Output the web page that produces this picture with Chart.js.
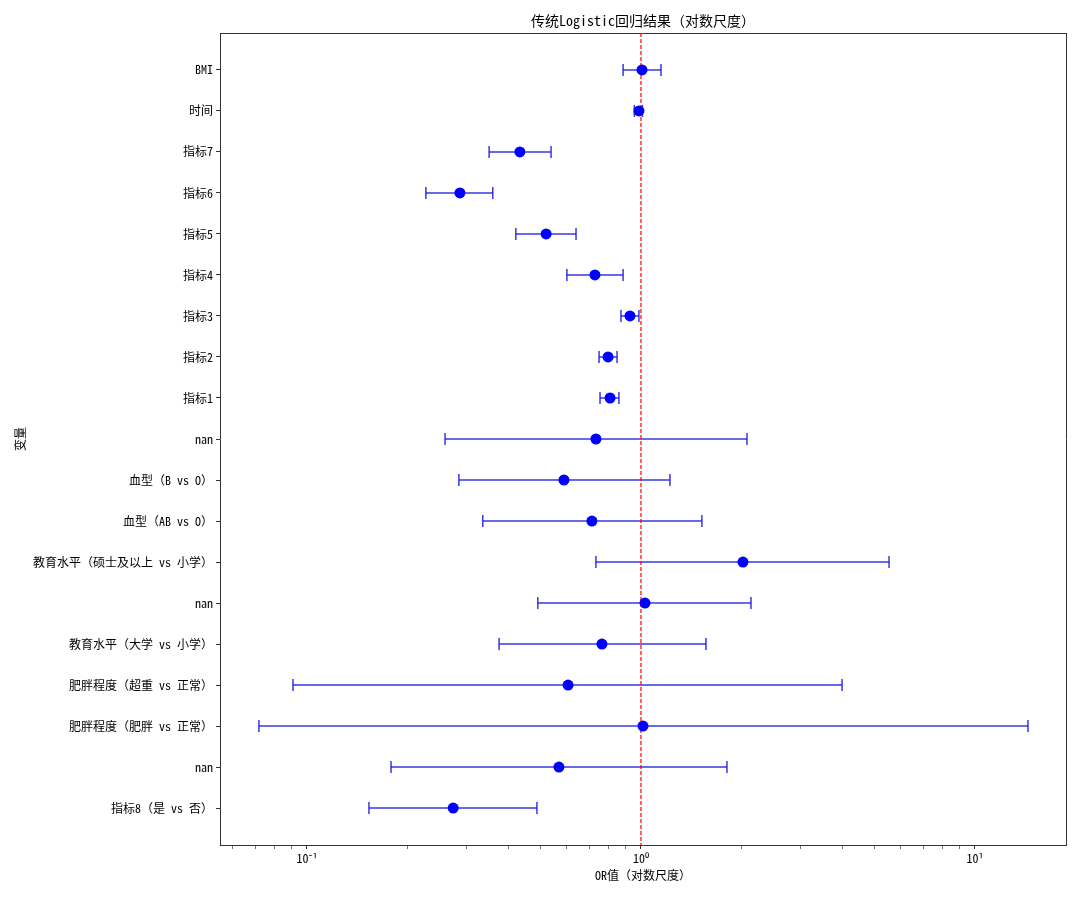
<!DOCTYPE html>
<html>
<head>
<meta charset="utf-8">
<script src="https://cdn.jsdelivr.net/npm/chart.js@4.4.1/dist/chart.umd.min.js"></script>
<style>
  html, body { margin: 0; padding: 0; background: #fff; }
  #wrap { width: 1080px; height: 899px; position: relative; }
</style>
</head>
<body>
<div id="wrap"><canvas id="forest"></canvas></div>
<script>
// variables, top to bottom
const labels = ['BMI', '时间', '指标7', '指标6', '指标5', '指标4', '指标3', '指标2', '指标1', 'nan',
    '血型（B vs O）', '血型（AB vs O）', '教育水平（硕士及以上 vs 小学）', 'nan', '教育水平（大学 vs 小学）',
    '肥胖程度（超重 vs 正常）', '肥胖程度（肥胖 vs 正常）', 'nan', '指标8（是 vs 否）'];
const orValues = [1.007, 0.986, 0.434, 0.287, 0.520, 0.728, 0.927, 0.797, 0.808, 0.733,
    0.588, 0.713, 2.020, 1.028, 0.764, 0.605, 1.014, 0.568, 0.274];
const ciLower = [0.884, 0.955, 0.351, 0.227, 0.422, 0.600, 0.871, 0.749, 0.754, 0.259,
    0.285, 0.336, 0.733, 0.491, 0.376, 0.0908, 0.0718, 0.1785, 0.1533];
const ciUpper = [1.148, 1.010, 0.538, 0.360, 0.639, 0.884, 0.986, 0.848, 0.859, 2.077,
    1.221, 1.522, 5.53, 2.135, 1.565, 4.00, 14.41, 1.809, 0.488];

const majorTicks = [0.1, 1, 10];
const majorTickLabels = ['10⁻¹', '10⁰', '10¹'];
const minorTicks = [0.06, 0.07, 0.08, 0.09, 0.2, 0.3, 0.4, 0.5, 0.6, 0.7, 0.8, 0.9,
    2, 3, 4, 5, 6, 7, 8, 9];
const refLine = 1;

const FONT = "'Noto Sans Mono CJK SC', 'Noto Sans CJK SC', 'Noto Sans', sans-serif";
const xMin = 0.0549, xMax = 18.73;
const yMin = -0.9, yMax = labels.length - 1 + 0.9;

const errColor = 'rgba(20,20,225,0.85)';

const datasets = [];
datasets.push({
    type: 'scatter',
    data: orValues.map((v, i) => ({ x: v, y: i })),
    backgroundColor: '#0000ff',
    borderWidth: 0,
    pointRadius: 5.5,
    order: 0
});
datasets.push({
    type: 'line',
    data: [{ x: refLine, y: yMin }, { x: refLine, y: yMax }],
    borderColor: '#ff0000',
    borderWidth: 1.2,
    borderDash: [4, 2],
    pointRadius: 0,
    showLine: true,
    order: 1
});
labels.forEach((_, i) => {
    datasets.push({
        type: 'line',
        data: [{ x: ciLower[i], y: i }, { x: ciUpper[i], y: i }],
        borderColor: errColor,
        borderWidth: 1.5,
        showLine: true,
        pointStyle: 'line',
        pointRotation: 90,
        pointRadius: 6,
        pointBorderColor: errColor,
        pointBorderWidth: 1.5,
        order: 2
    });
});

const axisColor = '#333';

new Chart(document.getElementById('forest'), {
    type: 'scatter',
    data: { datasets },
    options: {
        responsive: true,
        maintainAspectRatio: false,
        animation: false,
        events: [],
        layout: { padding: 0 },
        plugins: { legend: { display: false }, tooltip: { enabled: false } },
        scales: {
            x: {
                type: 'logarithmic',
                position: 'bottom',
                min: xMin, max: xMax,
                afterBuildTicks: s => {
                    s.ticks = majorTicks.concat(minorTicks).sort((a, b) => a - b)
                        .map(v => ({ value: v, major: majorTicks.includes(v) }));
                },
                afterFit: s => { s.height = 899 - 845; },
                ticks: {
                    autoSkip: false, maxRotation: 0, padding: 2,
                    color: '#000',
                    font: { family: FONT, size: 12 },
                    callback: v => {
                        const k = majorTicks.indexOf(v);
                        return k >= 0 ? majorTickLabels[k] : '';
                    }
                },
                grid: { drawOnChartArea: false, drawTicks: true, tickLength: 4, tickColor: axisColor,
                    tickWidth: c => (c.tick && c.tick.major ? 1 : 0.7) },
                border: { display: true, color: axisColor, width: 1 },
                title: { display: true, text: 'OR值（对数尺度）', color: '#000',
                    font: { family: FONT, size: 12 }, padding: { top: 0, bottom: 16 } }
            },
            x2: {
                type: 'logarithmic',
                position: 'top',
                min: xMin, max: xMax,
                afterFit: s => { s.height = 33; },
                ticks: { display: false },
                grid: { drawOnChartArea: false, drawTicks: false },
                border: { display: true, color: axisColor, width: 1 },
                title: { display: true, text: '传统Logistic回归结果（对数尺度）', color: '#000',
                    font: { family: FONT, size: 14 }, padding: { top: 12, bottom: 0 } }
            },
            y: {
                type: 'linear',
                position: 'left',
                reverse: true,
                min: yMin, max: yMax,
                afterBuildTicks: s => {
                    s.ticks = labels.map((_, i) => ({ value: i }));
                },
                afterFit: s => { s.width = 220; },
                ticks: {
                    autoSkip: false, padding: 3,
                    color: '#000',
                    font: { family: FONT, size: 12 },
                    callback: v => labels[v] ?? ''
                },
                grid: { drawOnChartArea: false, drawTicks: true, tickLength: 4, tickColor: axisColor },
                border: { display: true, color: axisColor, width: 1 },
                title: { display: true, text: '变量', color: '#000',
                    font: { family: FONT, size: 12 }, padding: { top: 13, bottom: 0 } }
            },
            y2: {
                type: 'linear',
                position: 'right',
                reverse: true,
                min: yMin, max: yMax,
                afterFit: s => { s.width = 14; },
                ticks: { display: false },
                grid: { drawOnChartArea: false, drawTicks: false },
                border: { display: true, color: axisColor, width: 1 }
            }
        }
    }
});
</script>
</body>
</html>
